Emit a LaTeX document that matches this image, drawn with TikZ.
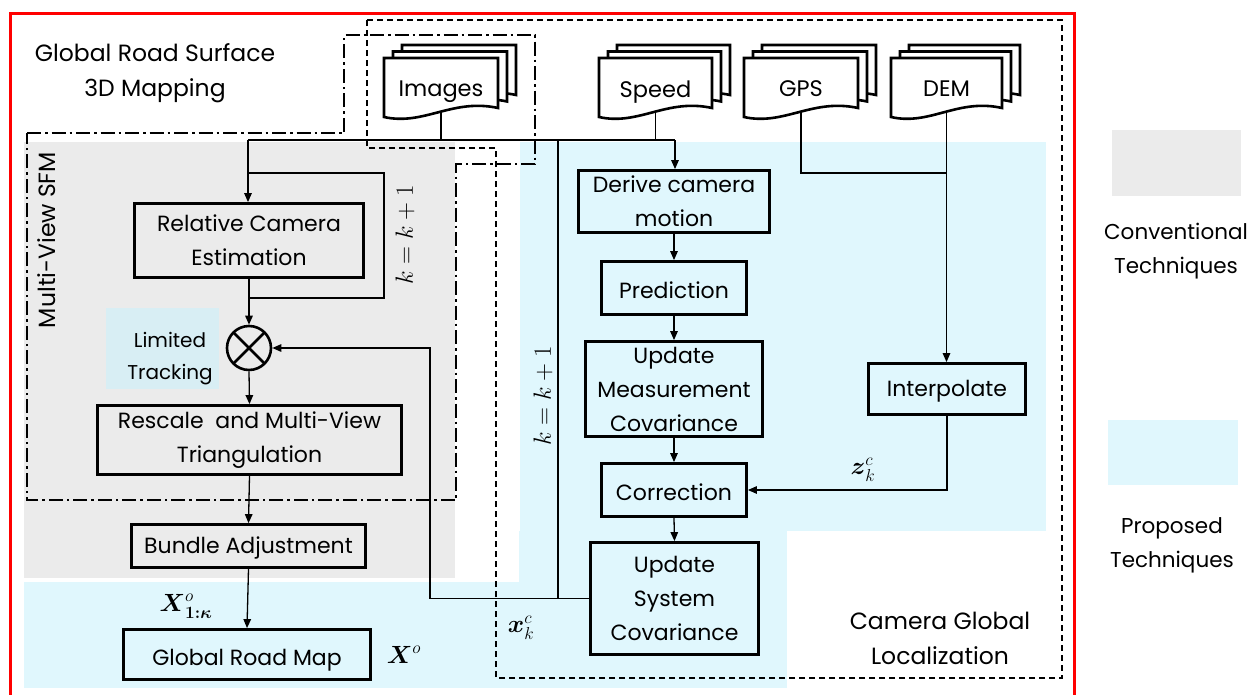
\documentclass[tikz,border=0pt]{standalone}
\usepackage{amsmath}
\usepackage[no-math]{fontspec}
\setmainfont{Poppins}
\usetikzlibrary{arrows.meta}

\definecolor{convgrey}{RGB}{235,235,235}
\definecolor{propblue}{RGB}{224,247,253}
\definecolor{tracblue}{RGB}{216,238,244}

\tikzset{
  box/.style={draw=black, line width=2.8pt, align=center, inner sep=0pt,
              font=\fontsize{22}{34}\selectfont,
              execute at begin node={\rule{0pt}{21pt}}},
  conn/.style={line width=1.3pt},
  arr/.style={conn, -{Triangle[length=9pt,width=7.5pt]}},
  sheet/.style={draw=black, line width=2.6pt, fill=white, line join=miter},
  dashdot/.style={line width=2.4pt, dash pattern=on 14pt off 4pt on 2.5pt off 4pt},
  dashbox/.style={line width=1.4pt, dash pattern=on 6pt off 4pt},
  title/.style={align=center, inner sep=0pt, font=\fontsize{23.5}{35}\selectfont},
  legend/.style={align=center, inner sep=0pt, font=\fontsize{21.5}{34}\selectfont},
  mathlbl/.style={inner sep=0pt, font=\fontsize{27}{30}\selectfont},
}

% one sheet of a document stack: left, right, top
\newcommand\docsheet[3]{%
  \filldraw[sheet] ({#1},{#3}) -- ({#2},{#3}) -- ({#2},{(#3)+50})
    .. controls ({(#1)+0.6*((#2)-(#1))},{(#3)+40}) and ({(#1)+0.35*((#2)-(#1))},{(#3)+68})
    .. ({#1},{(#3)+59}) -- cycle;}
% stack of three sheets with its label: name, left, right, top, text
\newcommand\docstack[5]{%
  \docsheet{(#2)+18}{(#3)+18}{(#4)-13}
  \docsheet{(#2)+9}{(#3)+9}{(#4)-6.5}
  \docsheet{#2}{#3}{#4}
  \node[inner sep=0pt, text depth=0pt, font=\fontsize{22.5}{30}\selectfont] (#1) at ({((#2)+(#3))/2},{(#4)+31}) {#5};
  \coordinate (#1-b) at ({((#2)+(#3))/2},{(#4)+54});}

\begin{document}
\begin{tikzpicture}[x=1pt,y=-1pt]
\useasboundingbox (0,0) rectangle (1254,694);

% shaded areas
\fill[convgrey] (24,142) rectangle (455,578);
\fill[propblue] (520,142) rectangle (1046,531);
\fill[propblue] (519,531) rectangle (787,688);
\fill[propblue] (24,582) rectangle (787,688);
\fill[tracblue] (106,308) rectangle (219,389);

% legend
\fill[convgrey] (1112,130) rectangle (1241,196);
\fill[propblue] (1108,420) rectangle (1238,485);
\node[legend] (lgconv) at (1176,251) {Conventional\\Techniques};
\node[legend] (lgprop) at (1172,545) {Proposed\\Techniques};

% outer frame
\draw[red, line width=3pt] (10,700) -- (10,13) -- (1074,13) -- (1074,700);

% group outlines
\draw[dashdot] (27,133) -- (344,133) -- (344,35) -- (535,35) -- (535,164)
  -- (456,164) -- (456,500) -- (27,500) -- cycle;
\draw[dashbox] (367,20) -- (1062,20) -- (1062,678) -- (496,678) -- (496,148)
  -- (367,148) -- cycle;

% group titles
\node[title] (tmap) at (155,73) {Global Road Surface\\3D Mapping};
\node[title, rotate=90] (tsfm) at (47,240) {Multi-View SFM};
\node[title] (tloc) at (940,638) {Camera Global\\Localization};

% input data
\docstack{images}{384}{498}{58}{Images}
\docstack{speed}{599}{712}{58}{Speed}
\docstack{gps}{744}{858}{58}{GPS}
\docstack{dem}{891}{1002}{58}{DEM}

% processing blocks
\node[box, minimum width=229, minimum height=74] (rce) at (249,240.5) {Relative Camera\\Estimation};
\node[circle, draw, line width=2.6pt, minimum size=44pt, inner sep=0pt] (ot) at (249,348) {};
\draw[line width=2.6pt] (ot.center) ++(-15.5,-15.5) -- ++(31,31);
\draw[line width=2.6pt] (ot.center) ++(-15.5,15.5) -- ++(31,-31);
\node[align=center, inner sep=0pt, font=\fontsize{20}{32}\selectfont] (trk) at (170,359) {Limited\\Tracking};
\node[box, minimum width=304, minimum height=69] (rescale) at (249.5,440) {Rescale\ \ and Multi-View\\Triangulation};
\node[box, minimum width=234, minimum height=43] (bundle) at (248.5,546) {Bundle Adjustment};
\node[box, minimum width=247, minimum height=50, text depth=0pt] (grm) at (247,654.5) {Global Road Map};

\node[box, minimum width=191, minimum height=62] (dcm) at (674,201.5) {Derive camera\\motion};
\node[box, minimum width=145, minimum height=53] (pred) at (674,288) {Prediction};
\node[box, minimum width=177, minimum height=95] (umc) at (674,389) {Update\\Measurement\\Covariance};
\node[box, minimum width=145, minimum height=53] (corr) at (674,490) {Correction};
\node[box, minimum width=168, minimum height=112] (usc) at (674.5,598.5) {Update\\System\\Covariance};
\node[box, minimum width=157, minimum height=51] (interp) at (947,389) {Interpolate};

% junctions
\coordinate (jL) at (248,140);
\coordinate (jR) at (675,140);
\coordinate (jK) at (558,140);
\coordinate (jG) at (946,173);
\coordinate (lA) at (249,298);
\coordinate (lB) at (384,173);
\coordinate (fb) at (430,0);

% data bus
\draw[conn] (jL) -- (jR);
\draw[conn] (images-b) -- (images-b |- jL);
\draw[conn] (speed-b) -- (speed-b |- jL);
\draw[arr] (jL) -- (jL |- rce.north);
\draw[arr] (jR) -- (jR |- dcm.north);

% mapping branch
\draw[arr] (rce.south) -- (ot.north);
\draw[conn] (lA) -| (lB) -- (lB -| jL);
\draw[arr] (ot.south) -- (rescale.north);
\draw[arr] (rescale.south) -- (bundle.north);
\draw[arr] (bundle.south) -- (grm.north);

% localization branch
\draw[arr] (dcm.south) -- (pred.north);
\draw[arr] (pred.south) -- (umc.north);
\draw[arr] (umc.south) -- (corr.north);
\draw[arr] (corr.south) -- (usc.north);
\draw[conn] (gps-b) |- (jG);
\draw[arr] (dem-b) -- (dem-b |- interp.north);
\draw[arr] (interp.south) |- (corr.east);

% feedback
\draw[arr] (usc.west) -| (fb |- ot.east) -- (ot.east);
\draw[conn] (usc.west -| jK) -- (jK);

% labels
\node[inner sep=0pt, font=\fontsize{24}{28}\selectfont, rotate=90] (kl) at (405,235) {$k=k+1$};
\node[inner sep=0pt, font=\fontsize{24}{28}\selectfont, rotate=90] (kr) at (543,396) {$k=k+1$};
\node[mathlbl] (zlbl) at (863,470) {$\boldsymbol{z}_k^c$};
\node[mathlbl] (xlbl) at (521,628) {$\boldsymbol{x}_k^c$};
\node[mathlbl] (Xk) at (186,606) {$\boldsymbol{X}^{o}_{\boldsymbol{1:\kappa}}$};
\node[mathlbl] (Xo) at (404,655) {$\boldsymbol{X}^{o}$};
\end{tikzpicture}
\end{document}
